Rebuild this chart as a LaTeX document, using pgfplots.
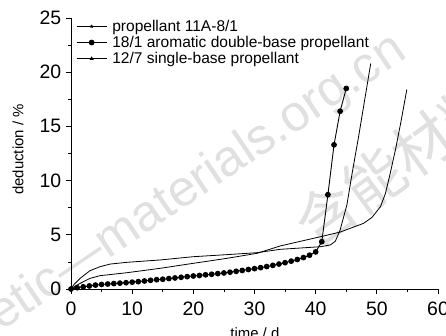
\documentclass[border=0pt]{standalone}
\usepackage{fontspec}
\setmainfont{Liberation Sans}
\newfontfamily\cjk{Noto Sans CJK SC}
\usepackage{pgfplots}
\pgfplotsset{compat=1.18}
\begin{document}
\begin{tikzpicture}
% faint watermark
\node[rotate=34, anchor=base west, text=black!12, inner sep=0pt, font=\fontsize{51}{56}\selectfont] at (-70bp,-43bp) {etic—materials.org.cn};
\node[rotate=36, anchor=base west, text=black!12, inner sep=0pt, font=\cjk\fontsize{60}{66}\selectfont] at (244bp,38bp) {含能材料};
\begin{axis}[
  at={(0,0)}, anchor=south west,
  x=6.1167bp, y=10.84bp,
  xmin=0, xmax=60, ymin=0, ymax=25,
  axis lines*=left,
  axis line style={line width=0.8bp},
  xtick={0,10,...,60}, ytick={0,5,...,25},
  minor x tick num=1, minor y tick num=1,
  tick align=outside,
  major tick length=4.5bp, minor tick length=2.8bp,
  tick style={line width=0.7bp, black},
  /pgf/number format/assume math mode=true,
  ticklabel style={font=\fontsize{19.5}{22}\selectfont},
  yticklabel style={inner sep=0.5bp, xshift=-4.5bp},
  xticklabel style={inner sep=0pt, yshift=-8bp},
  every axis x label/.style={at={(axis description cs:0.501,0)}, anchor=base, yshift=-49bp},
  every axis y label/.style={at={(axis description cs:-0.1444,0.515)}, rotate=90, anchor=center},
  xlabel={time / d},
  ylabel={deduction / \%},
  label style={font=\fontsize{15}{18}\selectfont},
  legend cell align=left,
  legend style={draw=none, fill=none, at={(axis description cs:0,1)}, anchor=north west,
    xshift=5bp, yshift=-1bp, inner sep=0pt, row sep=1.8bp,
    nodes={inner sep=0.8bp},
    font=\fontsize{15.6}{18}\selectfont,
    /tikz/every odd column/.append style={column sep=4.4bp}},
  legend image code/.code={\draw[#1, mark repeat=2, mark phase=2] plot coordinates {(0bp,0bp) (15bp,0bp) (30bp,0bp)};},
]
\addplot[black, line width=0.8bp, mark=star, mark size=1.6bp, mark repeat=1000, mark phase=1000] coordinates {
(0,0) (0.5,0.42) (1.5,0.99) (3.1,1.69) (4.75,2.06) (6.4,2.3) (9.1,2.46) (14.6,2.68) (20,2.98) (25.5,3.17) (30.4,3.35) (34.2,3.66) (40.75,3.9) (42.4,4.06) (43.2,4.4) (43.6,4.9) (44,5.44) (44.5,6.5) (45.1,7.75) (46,10.8) (47,14) (48,17.4) (49,20.8)
};
\addlegendentry{propellant 11A-8/1}
\addplot[black, line width=0.9bp, mark=*, mark size=2.4bp] coordinates {
(0,0) (1,0.12) (2,0.2) (3,0.28) (4,0.36) (5,0.42) (6,0.46) (7,0.5) (8,0.54) (9,0.58) (10,0.63) (11,0.68) (12,0.74) (13,0.8) (14,0.86) (15,0.9) (16,0.96) (17,1.02) (18,1.08) (19,1.14) (20,1.2) (21,1.25) (22,1.31) (23,1.36) (24,1.42) (25,1.48) (26,1.55) (27,1.63) (28,1.71) (29,1.8) (30,1.88) (31,1.97) (32,2.07) (33,2.18) (34,2.3) (35,2.43) (36,2.57) (37,2.72) (38,2.9) (39,3.12) (40,3.42) (41,4.36) (42,8.7) (43,13.3) (44,16.4) (45,18.5)
};
\addlegendentry{18/1 aromatic double-base propellant}
\addplot[black, line width=0.8bp, mark=triangle*, mark size=1.6bp, mark repeat=1000, mark phase=1000] coordinates {
(0,0) (0.5,0.2) (1.5,0.52) (3.1,0.98) (4.75,1.23) (9.1,1.5) (14.6,1.91) (20,2.37) (25.5,2.83) (30.4,3.29) (34.2,3.97) (40.75,4.82) (44,5.25) (47.8,6.05) (49.2,6.6) (50.6,7.6) (51.4,8.8) (52.2,10.7) (53.1,13) (54,15.6) (54.9,18.4)
};
\addlegendentry{12/7 single-base propellant}
\end{axis}
\pgfresetboundingbox
\useasboundingbox (-71bp,-47bp) rectangle (375bp,289bp);
\end{tikzpicture}
\end{document}
